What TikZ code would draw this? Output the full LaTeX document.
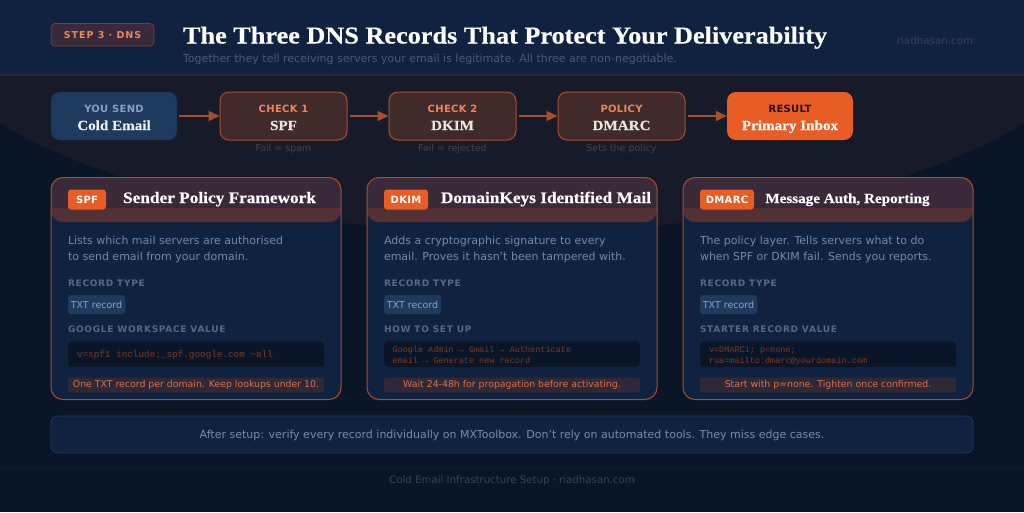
\documentclass[tikz,border=0pt]{standalone}
\usepackage{fontspec}
\usetikzlibrary{arrows.meta}
\setmainfont{DejaVu Sans}
\newfontfamily\serifbold{Liberation Serif}[BoldFont={Liberation Serif Bold},BoldFeatures={FakeBold=0.35},FakeStretch=1.08]
\newfontfamily\sansspaced{DejaVu Sans}[LetterSpace=3]
\newfontfamily\sansspacedb{DejaVu Sans}[LetterSpace=8]
\newfontfamily\sansspacedc{DejaVu Sans}[LetterSpace=10]
\newfontfamily\codefont{Liberation Mono}
\newcommand{\fsz}[1]{\fontsize{#1}{#1}\selectfont}
\definecolor{bgdark}{HTML}{0A1628}
\definecolor{glow}{HTML}{171A29}
\definecolor{headerbg}{HTML}{102240}
\definecolor{headerline}{HTML}{2A2738}
\definecolor{navybox}{HTML}{1E3A5F}
\definecolor{rustfill}{HTML}{412A2A}
\definecolor{rustline}{HTML}{A84E2C}
\definecolor{orangeA}{HTML}{E85D26}
\definecolor{orangeT}{HTML}{F0845A}
\definecolor{plumA}{HTML}{382A38}
\definecolor{plumB}{HTML}{523034}
\definecolor{noteF}{HTML}{2F2937}
\definecolor{cardfill}{HTML}{102240}
\definecolor{descT}{HTML}{7388A8}
\definecolor{labelT}{HTML}{566883}
\definecolor{chipT}{HTML}{8AA0BF}
\definecolor{codeT}{HTML}{7A3A24}
\definecolor{noteT}{HTML}{DC6F4A}
\definecolor{faintT}{HTML}{3B4558}
\definecolor{subT}{HTML}{4A5A78}
\definecolor{siteT}{HTML}{33435F}
\tikzset{
  x=1pt,y=-1pt,
  txt/.style={inner sep=0pt,outer sep=0pt,anchor=base},
  ltxt/.style={inner sep=0pt,outer sep=0pt,anchor=base west},
  flowbox/.style={minimum width=#1,minimum height=48pt,inner sep=0pt,rounded corners=9pt},
  checkbox/.style={flowbox=127pt,fill=rustfill,draw=rustline,line width=1pt},
  flowtop/.style={txt,font=\sansspaced\bfseries\fsz{10}},
  flowmain/.style={txt,font=\serifbold\bfseries\fsz{14}},
  flownote/.style={txt,font=\fsz{9.5},text=faintT},
  flowarrow/.style={draw=rustline,line width=1.4pt,shorten <=2pt,-{Triangle[length=11pt,width=10pt]}},
  cardbox/.style={minimum width=290pt,minimum height=222pt,inner sep=0pt,rounded corners=12pt},
  tagbox/.style={minimum height=20pt,inner sep=0pt,rounded corners=3pt,fill=orangeA,text=white,font=\sansspaced\bfseries\fsz{10}},
  cardtitle/.style={txt,text=white,font=\serifbold\bfseries\fsz{16}},
  desc/.style={ltxt,text=descT,font=\fsz{11}},
  fieldlabel/.style={ltxt,text=labelT,font=\sansspacedb\bfseries\fsz{9}},
  chip/.style={minimum width=57pt,minimum height=19pt,inner sep=0pt,rounded corners=3pt,fill=navybox,text=chipT,font=\fsz{9.5}},
  codebox/.style={minimum width=256pt,minimum height=25.5pt,inner sep=0pt,rounded corners=4pt,fill=bgdark},
  codetxt/.style={ltxt,text=codeT,font=\codefont\fsz{8.5}},
  notebox/.style={minimum width=256pt,minimum height=15pt,inner sep=0pt,rounded corners=3pt,fill=noteF,text=noteT,font=\fsz{9.35}},
}
\begin{document}
\begin{tikzpicture}
\useasboundingbox (0,0) rectangle (1024,512);
\fill[bgdark] (0,0) rectangle (1024,512);
\begin{scope}
\clip (0,0) rectangle (1024,512);
\fill[glow] (512,0) ellipse [x radius=604pt,y radius=232pt];
\end{scope}
% header
\fill[headerbg] (0,0) rectangle (1024,74);
\fill[headerline] (0,74) rectangle (1024,76);
\node[minimum width=103pt,minimum height=22.5pt,inner sep=0pt,rounded corners=4pt,fill=plumA,draw=rustline!55!plumA,line width=.8pt,anchor=center,text=orangeT,font=\sansspacedc\bfseries\fsz{9.5}] (stepbadge) at (102.5,34.8) {STEP 3 · DNS};
\node[ltxt,text=white,font=\serifbold\bfseries\fsz{24.3}] (maintitle) at (183,43.5) {The Three DNS Records That Protect Your Deliverability};
\node[ltxt,text=subT,font=\fsz{11}] (subtitle) at (183,62) {Together they tell receiving servers your email is legitimate. All three are non-negotiable.};
\node[txt,text=siteT,font=\fsz{10.3}] (site) at (935,44) {riadhasan.com};
% flow
\node[flowbox=126pt,fill=navybox] (send) at (114,116) {};
\node[checkbox] (spf) at (283.5,116) {};
\node[checkbox] (dkim) at (452.5,116) {};
\node[checkbox] (dmarc) at (621.5,116) {};
\node[flowbox=126pt,fill=orangeA] (inbox) at (790,116) {};
\draw[flowarrow] (send) -- (spf);
\draw[flowarrow] (spf) -- (dkim);
\draw[flowarrow] (dkim) -- (dmarc);
\draw[flowarrow] (dmarc) -- (inbox);
\node[flowtop,text=chipT] (sendA) at (114,112) {YOU SEND};
\node[flowmain,text=white!92!navybox] (sendB) at (114,130) {Cold Email};
\node[flowtop,text=orangeT] (spfA) at (283.5,112) {CHECK 1};
\node[flowmain,text=white!88!rustfill] (spfB) at (283.5,130) {SPF};
\node[flowtop,text=orangeT] (dkimA) at (452.5,112) {CHECK 2};
\node[flowmain,text=white!88!rustfill] (dkimB) at (452.5,130) {DKIM};
\node[flowtop,text=orangeT] (dmarcA) at (621.5,112) {POLICY};
\node[flowmain,text=white!88!rustfill] (dmarcB) at (621.5,130) {DMARC};
\node[flowtop,text=black!85!orangeA] (inboxA) at (790,112) {RESULT};
\node[flowmain,text=white] (inboxB) at (790,130) {Primary Inbox};
\node[flownote] (spfN) at (283.5,151.5) {Fail = spam};
\node[flownote] (dkimN) at (452.5,151.5) {Fail = rejected};
\node[flownote] (dmarcN) at (621.5,151.5) {Sets the policy};
% card 1
\begin{scope}
\node[cardbox,fill=cardfill] (card1) at (196,288.5) {};
\fill[plumA,rounded corners=12pt] (51,177.5) rectangle (341,222);
\fill[plumB] (51,208) -- (341,208) {[rounded corners=12pt] -- (341,222) -- (51,222)} -- cycle;
\node[cardbox,draw=rustline,line width=1pt] (card1o) at (196,288.5) {};
\node[tagbox,minimum width=38pt] (tag1) at (87,199.5) {SPF};
\node[cardtitle] (title1) at (219.5,203) {Sender Policy Framework};
\node[desc] (d1a) at (68,244) {Lists which mail servers are authorised};
\node[desc] (d1b) at (68,260) {to send email from your domain.};
\node[fieldlabel] (l1a) at (68,286.5) {RECORD TYPE};
\node[chip] (chip1) at (96.5,304.5) {TXT record};
\node[fieldlabel] (l1b) at (68,332.5) {GOOGLE WORKSPACE VALUE};
\node[codebox] (code1) at (196,354.2) {};
\node[codetxt,font=\codefont\fsz{9.33}] (c1a) at (77,357) {v=spf1 include:\_spf.google.com \textasciitilde all};
\node[notebox] (note1) at (196,385) {One TXT record per domain. Keep lookups under 10.};
\end{scope}
% card 2
\begin{scope}[shift={(316,0)}]
\node[cardbox,fill=cardfill] (card2) at (196,288.5) {};
\fill[plumA,rounded corners=12pt] (51,177.5) rectangle (341,222);
\fill[plumB] (51,208) -- (341,208) {[rounded corners=12pt] -- (341,222) -- (51,222)} -- cycle;
\node[cardbox,draw=rustline,line width=1pt] (card2o) at (196,288.5) {};
\node[tagbox,minimum width=44pt] (tag2) at (90,199.5) {DKIM};
\node[cardtitle] (title2) at (230,203) {DomainKeys Identified Mail};
\node[desc] (d2a) at (68,244) {Adds a cryptographic signature to every};
\node[desc] (d2b) at (68,260) {email. Proves it hasn't been tampered with.};
\node[fieldlabel] (l2a) at (68,286.5) {RECORD TYPE};
\node[chip] (chip2) at (96.5,304.5) {TXT record};
\node[fieldlabel] (l2b) at (68,332.5) {HOW TO SET UP};
\node[codebox] (code2) at (196,354.2) {};
\node[codetxt] (c2a) at (76.5,352.8) {Google Admin → Gmail → Authenticate};
\node[codetxt] (c2b) at (76.5,363.8) {email → Generate new record};
\node[notebox] (note2) at (196,385) {Wait 24-48h for propagation before activating.};
\end{scope}
% card 3
\begin{scope}[shift={(632,0)}]
\node[cardbox,fill=cardfill] (card3) at (196,288.5) {};
\fill[plumA,rounded corners=12pt] (51,177.5) rectangle (341,222);
\fill[plumB] (51,208) -- (341,208) {[rounded corners=12pt] -- (341,222) -- (51,222)} -- cycle;
\node[cardbox,draw=rustline,line width=1pt] (card3o) at (196,288.5) {};
\node[tagbox,minimum width=54pt] (tag3) at (95,199.5) {DMARC};
\node[cardtitle,font=\serifbold\bfseries\fsz{14}] (title3) at (215.5,203) {Message Auth, Reporting};
\node[desc] (d3a) at (68,244) {The policy layer. Tells servers what to do};
\node[desc] (d3b) at (68,260) {when SPF or DKIM fail. Sends you reports.};
\node[fieldlabel] (l3a) at (68,286.5) {RECORD TYPE};
\node[chip] (chip3) at (96.5,304.5) {TXT record};
\node[fieldlabel] (l3b) at (68,332.5) {STARTER RECORD VALUE};
\node[codebox] (code3) at (196,354.2) {};
\node[codetxt] (c3a) at (77,352.8) {v=DMARC1; p=none;};
\node[codetxt] (c3b) at (77,363.8) {rua=mailto:dmarc@yourdomain.com};
\node[notebox] (note3) at (196,385) {Start with p=none. Tighten once confirmed.};
\end{scope}
% callout
\node[minimum width=922pt,minimum height=37pt,inner sep=0pt,rounded corners=7pt,fill=headerbg,draw=navybox,line width=.8pt] (callout) at (512,434.5) {};
\node[txt,text=chipT!85!bgdark,font=\fsz{11}] (calltxt) at (512,438) {After setup: verify every record individually on MXToolbox. Don't rely on automated tools. They miss edge cases.};
\fill[glow] (0,467) rectangle (1024,468);
\node[txt,text=siteT,font=\fsz{10.2}] (foot) at (512,483.5) {Cold Email Infrastructure Setup · riadhasan.com};
\end{tikzpicture}
\end{document}
